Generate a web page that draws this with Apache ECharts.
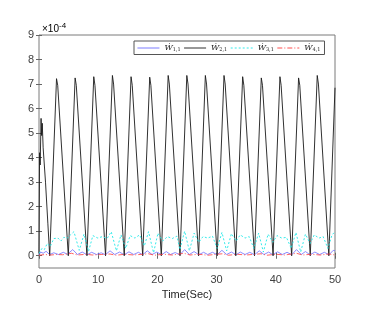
<!DOCTYPE html>
<html><head><meta charset="utf-8">
<script src="https://cdn.jsdelivr.net/npm/echarts@6/dist/echarts.min.js"></script>
<style>html,body{margin:0;padding:0;background:#fff}#c{width:365px;height:310px}</style>
</head><body><div id="c"></div>
<script>
var xTicks = [0, 10, 20, 30, 40, 50];
var yTicks = [0, 1, 2, 3, 4, 5, 6, 7, 8, 9];
var seriesNames = ['W11', 'W21', 'W31', 'W41'];

var w11 = [[0,0.05],[0.3,0.15],[0.7,0.1],[1.2,0.18],[1.8,0.05],[2.5,0.12],[3.3,0.05],[4.1,0.14],[4.8,0.06],[5.7,0.25],[6.5,0.05],[7.3,0.15],[8.1,0.04],[8.9,0.14],[9.7,0.05],[10.5,0.12],[11.2,0.04],[12.0,0.2],[12.8,0.05],[13.6,0.15],[14.4,0.04],[15.2,0.16],[16.0,0.05],[16.8,0.14],[17.5,0.04],[18.3,0.2],[19.1,0.05],[19.9,0.15],[20.7,0.04],[21.5,0.17],[22.2,0.05],[23.0,0.13],[23.8,0.04],[24.6,0.25],[25.4,0.05],[26.2,0.17],[27.0,0.04],[27.8,0.14],[28.5,0.05],[29.3,0.14],[30.1,0.04],[30.9,0.22],[31.7,0.05],[32.5,0.15],[33.3,0.04],[34.0,0.15],[34.8,0.05],[35.6,0.14],[36.4,0.04],[37.2,0.2],[38.0,0.05],[38.8,0.15],[39.5,0.04],[40.3,0.16],[41.1,0.05],[41.9,0.14],[42.7,0.04],[43.5,0.25],[44.3,0.05],[45.0,0.17],[45.8,0.04],[46.6,0.15],[47.4,0.05],[48.2,0.14],[49.0,0.04],[49.7,0.22],[50,0.2]];

var w21 = [[0,0.1],[0.1,4.2],[0.2,3.7],[0.35,5.6],[0.45,4.9],[0.55,5.4],[0.7,4.4],[1.1,3.0],[1.5,1.3],[1.81,0],
[2.96,7.22],[3.16,6.95],[3.31,6.9],[4.95,0],
[6.10,7.25],[6.30,6.95],[6.45,6.9],[8.10,0],
[9.25,7.3],[9.45,6.95],[9.6,6.9],[11.24,0],
[12.40,7.35],[12.6,7.0],[12.75,6.95],[14.40,0],
[15.55,7.3],[15.75,6.95],[15.9,6.9],[17.52,0],
[18.70,7.28],[18.9,6.95],[19.05,6.9],[20.66,0],
[21.82,7.35],[22.02,7.0],[22.17,6.95],[23.82,0],
[24.97,7.35],[25.17,7.0],[25.32,6.95],[26.96,0],
[28.10,7.35],[28.3,7.0],[28.45,6.95],[30.10,0],
[31.25,7.35],[31.45,7.0],[31.6,6.95],[33.24,0],
[34.40,7.3],[34.6,6.95],[34.75,6.9],[36.40,0],
[37.55,7.25],[37.75,6.95],[37.9,6.9],[39.54,0],
[40.70,7.3],[40.9,6.95],[41.05,6.9],[42.68,0],
[43.85,7.25],[44.05,6.95],[44.2,6.9],[45.82,0],
[47.00,7.35],[47.2,7.0],[47.35,6.95],[48.96,0],
[50,6.85]];

var w31 = [[0,0.1],[0.5,0.3],[0.9,0.25],[1.4,0.5],[1.9,0.38],[2.5,0.7],[3.2,0.72],[3.7,0.6],[4.2,0.75],[4.8,0.72],[5.3,0.85],[5.9,0.98],[6.8,0.22],[7.6,0.88],[8.37,0.18],[9.1,0.82],[9.94,0.72],[10.7,0.78],[11.5,0.7],[12.2,0.98],[13.08,0.2],[13.85,0.85],[14.65,0.3],[15.4,0.82],[16.2,0.72],[17.0,0.85],[17.8,0.4],[18.5,0.98],[19.35,0.12],[20.1,0.92],[20.9,0.6],[21.7,0.78],[22.5,0.7],[23.3,0.8],[23.8,0.25],[24.6,1.0],[25.4,0.2],[26.2,0.92],[27.0,0.55],[27.7,0.78],[28.5,0.72],[29.3,0.8],[30.1,0.3],[30.9,0.95],[31.7,0.2],[32.5,0.9],[33.3,0.6],[34.0,0.85],[34.8,0.72],[35.5,0.78],[36.3,0.3],[37.1,0.92],[37.9,0.15],[38.7,0.88],[39.5,0.55],[40.2,0.82],[41.0,0.72],[41.8,0.75],[42.6,0.3],[43.4,0.95],[44.2,0.15],[45.0,0.88],[45.8,0.5],[46.5,0.85],[47.3,0.72],[48.0,0.78],[48.8,0.3],[49.5,0.85],[50,0.98]];

var w41 = [[0,0.02],[1,0.05],[2,0.03],[3,0.05],[4,0.04],[5.5,0.1],[6.5,0.03],[8,0.06],[9,0.03],[10.5,0.05],[12,0.07],[13,0.02],[14.5,0.06],[16,0.03],[17.5,0.06],[18.5,0.08],[19.5,0.02],[21,0.06],[22.5,0.03],[24.5,0.1],[25.5,0.03],[27,0.06],[28.5,0.02],[30,0.06],[31,0.08],[32,0.02],[33.5,0.06],[35,0.03],[36.5,0.06],[37.5,0.08],[38.5,0.02],[40,0.06],[41.5,0.03],[43.5,0.1],[44.5,0.03],[46,0.06],[47.5,0.03],[49,0.07],[50,0.03]];

var legendLabels = {W11: '1,1', W21: '2,1', W31: '3,1', W41: '4,1'};

var chart = echarts.init(document.getElementById('c'), null, {renderer: 'canvas'});
var tickFont = {color: '#404040', fontSize: 11, fontFamily: 'Liberation Sans, Arial, sans-serif'};
var tickLine = {color: '#666', width: 1};
function mk(name, data, color, type, width) {
  return {
    name: name, type: 'line', data: data, showSymbol: false, symbol: 'none',
    animation: false, sampling: null, clip: true,
    lineStyle: {color: color, type: type, width: width}, itemStyle: {color: color}
  };
}
chart.setOption({
  animation: false,
  backgroundColor: '#fff',
  grid: {left: 39, right: 30, top: 35, bottom: 42, show: true, borderColor: '#7a7a7a', borderWidth: 1, backgroundColor: '#fff'},
  xAxis: [
    {
      type: 'value', min: 0, max: 50, interval: 10, position: 'bottom',
      axisLine: {show: false}, splitLine: {show: false},
      axisTick: {show: true, inside: true, length: 3, lineStyle: tickLine},
      name: 'Time(Sec)', nameLocation: 'middle', nameGap: 17,
      nameTextStyle: {color: '#262626', fontSize: 11, fontFamily: 'Liberation Sans, Arial, sans-serif'},
      axisLabel: Object.assign({margin: 6}, tickFont)
    },
    {
      type: 'value', min: 0, max: 50, interval: 10, position: 'top',
      axisLine: {show: false}, splitLine: {show: false},
      axisTick: {show: true, inside: true, length: 3, lineStyle: tickLine},
      axisLabel: {show: false}
    }
  ],
  yAxis: [
    {
      type: 'value', min: -0.5, max: 9, position: 'left',
      axisLine: {show: false}, splitLine: {show: false},
      axisTick: {show: true, inside: true, length: 3, customValues: yTicks, lineStyle: tickLine},
      axisLabel: Object.assign({margin: 5, customValues: yTicks}, tickFont)
    },
    {
      type: 'value', min: -0.5, max: 9, position: 'right',
      axisLine: {show: false}, splitLine: {show: false},
      axisTick: {show: true, inside: true, length: 3, customValues: yTicks, lineStyle: tickLine},
      axisLabel: {show: false}
    }
  ],
  legend: {
    left: 134, top: 41, orient: 'horizontal', width: 260,
    data: seriesNames,
    itemWidth: 22, itemHeight: 8, itemGap: 3,
    padding: [3, 4, 2, 3],
    itemStyle: {opacity: 0, borderWidth: 0},
    lineStyle: {width: 0.9},
    backgroundColor: '#fff', borderColor: '#555', borderWidth: 1, borderRadius: 0,
    formatter: function (n) { return '{w|Ẇ}{s|' + legendLabels[n] + '}'; },
    textStyle: {
      padding: [0, 0, 0, 0],
      rich: {
        w: {fontFamily: 'DejaVu Serif, Liberation Serif, serif', fontStyle: 'italic', fontSize: 8, color: '#222'},
        s: {fontFamily: 'DejaVu Serif, Liberation Serif, serif', fontSize: 5, color: '#222', verticalAlign: 'bottom', padding: [4, 0, 0, 0]}
      }
    }
  },
  graphic: [{
    type: 'text', left: 42, top: 22,
    style: {
      text: '{a|×10}{b|-4}',
      rich: {
        a: {fontSize: 10, fontFamily: 'Liberation Sans, Arial, sans-serif', color: '#404040'},
        b: {fontSize: 8, fontFamily: 'Liberation Sans, Arial, sans-serif', color: '#404040', verticalAlign: 'top', padding: [0, 0, 6, 0]}
      }
    }
  }],
  series: [
    mk('W11', w11, '#6e6eff', 'solid', 0.8),
    mk('W21', w21, '#1a1a1a', 'solid', 0.9),
    mk('W31', w31, '#1ee8e8', [2, 2], 0.9),
    mk('W41', w41, '#ff3b3b', [5, 2, 1, 2], 0.8)
  ]
});
</script></body></html>
